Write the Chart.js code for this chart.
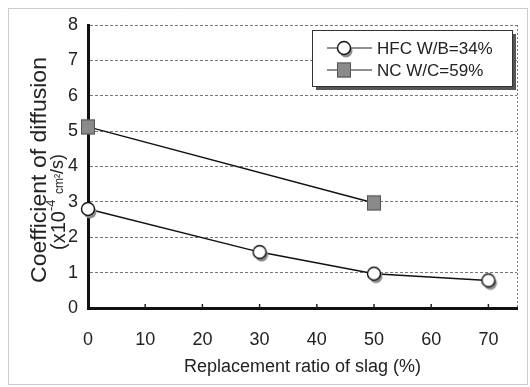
<!DOCTYPE html>
<html>
<head>
<meta charset="utf-8">
<script src="https://cdn.jsdelivr.net/npm/chart.js@4.4.0/dist/chart.umd.min.js"></script>
<style>
  body { margin: 0; background: #fff; }
  #wrap { width: 530px; height: 387px; }
</style>
</head>
<body>
<div id="wrap"><canvas id="myChart_diffusion" width="530" height="387"></canvas></div>
<script>
// data
var hfcX = [0, 30, 50, 70];
var hfcValues = [2.8, 1.58, 0.97, 0.78];
var ncX = [0, 50];
var ncValues = [5.12, 2.97];
var xTicks = [0, 10, 20, 30, 40, 50, 60, 70];
var yTicks = [0, 1, 2, 3, 4, 5, 6, 7, 8];
var seriesNames = ['HFC W/B=34%', 'NC W/C=59%'];

var FONT = "'Liberation Sans', Arial, sans-serif";

// marker images (with a grey drop shadow like the scan)
function circleMarker() {
    var c = document.createElement('canvas');
    c.width = 24; c.height = 24;
    var g = c.getContext('2d');
    g.fillStyle = '#8c8c8c';
    g.beginPath(); g.arc(14, 15, 6.5, 0, Math.PI * 2); g.fill();
    g.fillStyle = '#fff';
    g.strokeStyle = '#111';
    g.lineWidth = 1.4;
    g.beginPath(); g.arc(12, 12, 6.5, 0, Math.PI * 2); g.fill(); g.stroke();
    return c;
}
function squareMarker() {
    var c = document.createElement('canvas');
    c.width = 20; c.height = 20;
    var g = c.getContext('2d');
    g.fillStyle = '#8a8a8a';
    g.fillRect(3, 2.5, 14, 15);
    g.strokeStyle = '#555';
    g.lineWidth = 1;
    g.strokeRect(3.5, 3, 13, 14);
    return c;
}
var circleImg = circleMarker();
var squareImg = squareMarker();

function pairs(xs, ys) {
    return xs.map(function (x, i) { return { x: x, y: ys[i] }; });
}

// border of the whole figure, right plot edge, x ticks, y title, legend
var decorations = {
    id: 'decorations',
    afterDraw: function (chart) {
        var c = chart.ctx;
        var a = chart.chartArea;
        var xs = chart.scales.x;
        c.save();
        // outer dotted frame
        c.strokeStyle = '#999';
        c.lineWidth = 1;
        c.setLineDash([1, 1]);
        c.strokeRect(8.5, 8.5, 519, 376);
        // right edge of plot
        c.setLineDash([2, 2]);
        c.strokeStyle = '#777';
        c.beginPath(); c.moveTo(a.right + 0.5, a.top); c.lineTo(a.right + 0.5, a.bottom); c.stroke();
        c.setLineDash([]);
        // small inward tick marks on x axis
        c.strokeStyle = '#222';
        c.lineWidth = 1.5;
        xTicks.forEach(function (v) {
            if (v === 0) return;
            var px = xs.getPixelForValue(v);
            c.beginPath(); c.moveTo(px, a.bottom); c.lineTo(px, a.bottom - 4); c.stroke();
        });

        // y axis title, two lines, rotated (rx = -screenY, ry = screenX)
        c.fillStyle = '#222';
        c.rotate(-Math.PI / 2);
        c.textBaseline = 'alphabetic';
        var t1 = 'Coefficient of diffusion';
        c.font = '22px ' + FONT;
        var w = c.measureText(t1).width;
        var target = 226;
        c.save();
        c.translate(-170, 46);
        c.scale(target / w, 1);
        c.textAlign = 'center';
        c.fillText(t1, 0, 0);
        c.restore();

        c.textAlign = 'left';
        var sx = -250;
        c.font = '20px ' + FONT;
        c.fillText('(x10', sx, 65);
        sx += c.measureText('(x10').width;
        c.font = '13px ' + FONT;
        c.fillText('-4', sx, 55);
        sx += c.measureText('-4 ').width + 2;
        c.font = '12px ' + FONT;
        c.fillText('cm²', sx, 63);
        sx += c.measureText('cm²').width;
        c.font = '18px ' + FONT;
        c.fillText('/s)', sx, 63);
        c.restore();

        // legend box
        c.save();
        var bx = 312, by = 30, bw = 200, bh = 56;
        c.fillStyle = '#555';
        c.fillRect(bx + 4, by + 4, bw, bh);
        c.fillStyle = '#fff';
        c.fillRect(bx, by, bw, bh);
        c.strokeStyle = '#333';
        c.lineWidth = 1;
        c.strokeRect(bx + 0.5, by + 0.5, bw, bh);
        var rows = [by + 18, by + 40];
        var imgs = [circleImg, squareImg];
        c.font = '17px ' + FONT;
        c.fillStyle = '#222';
        c.textBaseline = 'middle';
        rows.forEach(function (ry, i) {
            c.strokeStyle = '#222';
            c.lineWidth = 1.2;
            c.beginPath(); c.moveTo(327, ry); c.lineTo(372, ry); c.stroke();
            c.drawImage(imgs[i], 344 - imgs[i].width / 2, ry - imgs[i].height / 2);
            c.fillText(seriesNames[i], 377, ry + 1);
        });
        c.restore();
    }
};

var ctx = document.getElementById('myChart_diffusion');
var myChart = new Chart(ctx, {
    type: 'line',
    data: {
        datasets: [{
            label: seriesNames[0],
            data: pairs(hfcX, hfcValues),
            borderColor: '#111',
            borderWidth: 1.5,
            pointStyle: circleImg,
            clip: false,
            tension: 0
        }, {
            label: seriesNames[1],
            data: pairs(ncX, ncValues),
            borderColor: '#111',
            borderWidth: 1.5,
            pointStyle: squareImg,
            clip: false,
            tension: 0
        }]
    },
    options: {
        responsive: false,
        animation: false,
        layout: { padding: { left: 0, top: 25, right: 13, bottom: 9 } },
        plugins: {
            legend: { display: false },
            tooltip: { enabled: false }
        },
        scales: {
            x: {
                type: 'linear',
                min: 0,
                max: 75,
                afterBuildTicks: function (scale) {
                    scale.ticks = xTicks.map(function (v) { return { value: v }; });
                },
                afterFit: function (scale) { scale.height = 70; },
                grid: { display: false, drawTicks: false },
                border: { display: true, color: '#111', width: 3 },
                ticks: { padding: 21, color: '#222', font: { family: FONT, size: 18 } },
                title: {
                    display: true,
                    text: 'Replacement ratio of slag (%)',
                    color: '#222',
                    font: { family: FONT, size: 18 },
                    padding: { top: 0, bottom: 0 }
                }
            },
            y: {
                min: 0,
                max: 8,
                afterBuildTicks: function (scale) {
                    scale.ticks = yTicks.map(function (v) { return { value: v }; });
                },
                afterFit: function (scale) { scale.width = 88; },
                grid: {
                    color: '#777',
                    lineWidth: 1,
                    drawTicks: false
                },
                border: { display: true, color: '#111', width: 3, dash: [3, 2] },
                ticks: { padding: 10, color: '#222', font: { family: FONT, size: 18 } }
            }
        }
    },
    plugins: [decorations]
});
</script>
</body>
</html>
